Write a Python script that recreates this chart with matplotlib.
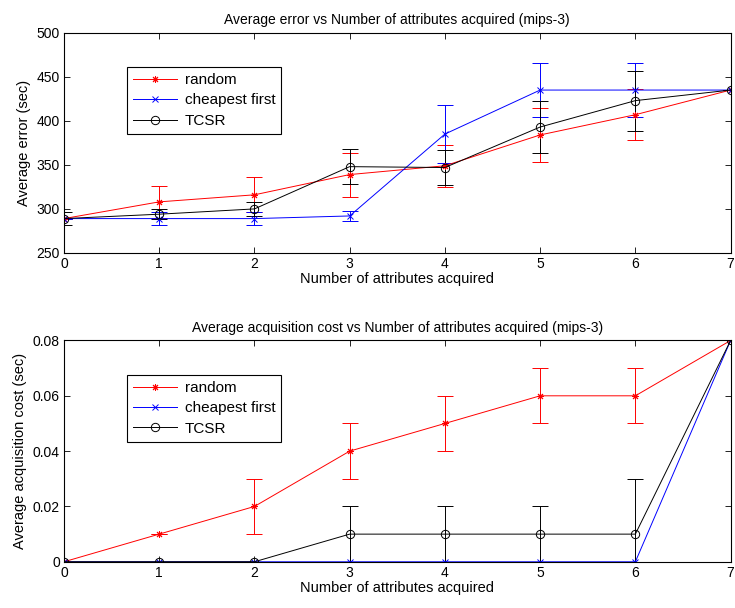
"""Average error / acquisition cost vs number of attributes acquired (mips-3)."""

import matplotlib.pyplot as plt
import numpy as np

plt.rcParams.update(
    {
        "font.family": "Liberation Sans",
        "font.size": 10,
        "xtick.direction": "in",
        "ytick.direction": "in",
        "xtick.top": True,
        "ytick.right": True,
        "axes.linewidth": 0.8,
    }
)

n_attrs = [0, 1, 2, 3, 4, 5, 6, 7]

# top panel: average error (sec)
err_random = [289, 308, 316, 339, 349, 384, 407, 435]
err_random_sd = [0, 18, 20, 25, 24, 31, 29, 0]
err_cheap = [289, 289, 289, 292, 385, 435, 435, 435]
err_cheap_sd = [0, 7, 7, 6, 33, 31, 31, 0]
err_tcsr = [289, 294, 300, 348, 347, 393, 423, 435]
err_tcsr_sd = [7, 6, 8, 20, 20, 30, 34, 0]

# bottom panel: average acquisition cost (sec)
cost_random = [0, 0.01, 0.02, 0.04, 0.05, 0.06, 0.06, 0.08]
cost_random_sd = [0, 0, 0.01, 0.01, 0.01, 0.01, 0.01, 0]
cost_cheap = [0, 0, 0, 0, 0, 0, 0, 0.08]
cost_cheap_sd = [0, 0, 0, 0, 0, 0, 0, 0]
cost_tcsr = [0, 0, 0, 0.01, 0.01, 0.01, 0.01, 0.08]
cost_tcsr_sd = [0, 0, 0, 0.01, 0.01, 0.01, 0.02, 0]

labels = ["random", "cheapest first", "TCSR"]
# MATLAB-like markers: asterisk, cross, open circle
styles = [("r", (8, 2, 0), 5), ("b", "x", 4), ("k", "o", 6)]


def draw_panel(ax, series, title, ylabel):
    handles = []
    for (vals, sd), (color, marker, msize) in zip(series, styles):
        eb = ax.errorbar(
            n_attrs,
            vals,
            yerr=sd,
            color=color,
            marker=marker,
            markersize=msize,
            markerfacecolor="none",
            markeredgewidth=0.7,
            linewidth=0.7,
            elinewidth=0.7,
            capsize=5.5,
        )
        handles.append(eb.lines[0])
    ax.set_xlim(0, 7)
    ax.set_title(title, fontsize=10)
    ax.set_xlabel("Number of attributes acquired", labelpad=1, fontsize=10.5)
    ax.set_ylabel(ylabel, fontsize=10.5)
    ax.tick_params(length=4, width=0.6, pad=3, labelsize=10)
    leg = ax.legend(
        handles,
        labels,
        loc="upper left",
        bbox_to_anchor=(0.094, 0.845),
        borderaxespad=0,
        fancybox=False,
        edgecolor="black",
        framealpha=1,
        fontsize=11,
        borderpad=0.4,
        handlelength=2.9,
        handletextpad=0.5,
        labelspacing=0.42,
    )
    leg.get_frame().set_linewidth(0.8)


fig = plt.figure(figsize=(7.35, 6.08), dpi=100)
ax1 = fig.add_axes([0.087, 0.584, 0.907, 0.362])
ax2 = fig.add_axes([0.087, 0.076, 0.907, 0.364])

draw_panel(
    ax1,
    [(err_random, err_random_sd), (err_cheap, err_cheap_sd), (err_tcsr, err_tcsr_sd)],
    "Average error vs Number of attributes acquired (mips-3)",
    "Average error (sec)",
)
ax1.set_ylim(250, 500)
ax1.set_yticks(np.arange(250, 501, 50))

draw_panel(
    ax2,
    [(cost_random, cost_random_sd), (cost_cheap, cost_cheap_sd), (cost_tcsr, cost_tcsr_sd)],
    "Average acquisition cost vs Number of attributes acquired (mips-3)",
    "Average acquisition cost (sec)",
)
ax2.set_ylim(0, 0.08)
ax2.set_yticks([0, 0.02, 0.04, 0.06, 0.08])
ax2.set_yticklabels(["0", "0.02", "0.04", "0.06", "0.08"])

fig.savefig("out.png", dpi=100)
